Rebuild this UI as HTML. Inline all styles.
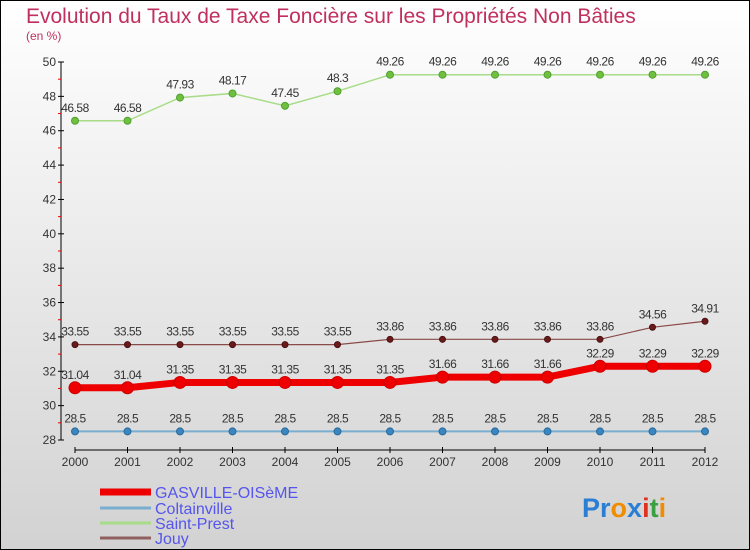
<!DOCTYPE html>
<html><head><meta charset="utf-8"><style>
html,body{margin:0;padding:0}
body{width:750px;height:550px;overflow:hidden;font-family:"Liberation Sans",sans-serif}
</style></head><body>
<svg id="chart" width="750" height="550" xmlns="http://www.w3.org/2000/svg" style="display:block">
<defs><linearGradient id="bg" x1="0" y1="0" x2="0" y2="1"><stop offset="0" stop-color="#ffffff"/><stop offset="1" stop-color="#d2d2d2"/></linearGradient></defs>
<rect x="0.5" y="0.5" width="749" height="549" fill="url(#bg)" stroke="#000" stroke-width="1"/>
<text x="26" y="23" font-size="21" fill="#c0305f">Evolution du Taux de Taxe Foncière sur les Propriétés Non Bâties</text>
<text x="26" y="40" font-size="12" fill="#c0305f">(en %)</text>
<g id="axes"></g>
<g id="series"></g>
<g id="legend"></g>
<g font-size="27" font-weight="bold" font-family="Liberation Sans, sans-serif">
<text x="582" y="517"><tspan fill="#2a7fd4">Pr</tspan><tspan fill="#f08c00">o</tspan><tspan fill="#2a7fd4">x</tspan><tspan fill="#e03020">i</tspan><tspan fill="#3aa040">t</tspan><tspan fill="#f08c00">i</tspan></text>
</g>
</svg>
<script>
const years = [2000,2001,2002,2003,2004,2005,2006,2007,2008,2009,2010,2011,2012];
const gasville = [31.04,31.04,31.35,31.35,31.35,31.35,31.35,31.66,31.66,31.66,32.29,32.29,32.29];
const coltainville = [28.5,28.5,28.5,28.5,28.5,28.5,28.5,28.5,28.5,28.5,28.5,28.5,28.5];
const saintPrest = [46.58,46.58,47.93,48.17,47.45,48.3,49.26,49.26,49.26,49.26,49.26,49.26,49.26];
const jouy = [33.55,33.55,33.55,33.55,33.55,33.55,33.86,33.86,33.86,33.86,33.86,34.56,34.91];
const yTicks = [28,30,32,34,36,38,40,42,44,46,48,50];
const seriesNames = ["GASVILLE-OISèME","Coltainville","Saint-Prest","Jouy"];

const NS="http://www.w3.org/2000/svg";
const yMin=28,yMax=50,yTop=62,yBot=440;
const xFirst=75,xLast=705;
function x(i){return xFirst+(xLast-xFirst)*i/(years.length-1);}
function y(v){return yBot-(v-yMin)*(yBot-yTop)/(yMax-yMin);}
function mk(tag,attrs,parent){const e=document.createElementNS(NS,tag);for(const k in attrs)e.setAttribute(k,attrs[k]);parent.appendChild(e);return e;}
const axes=document.getElementById('axes');
let a=mk('line',{x1:61,y1:yTop,x2:61,y2:yBot,stroke:'#000'},axes);


yTicks.forEach(t=>{
  let l=mk('line',{x1:58,y1:y(t),x2:64,y2:y(t),stroke:'#000'},axes);
  
  
  let tx=mk('text',{x:56,y:y(t)+4,'font-size':12,'text-anchor':'end',fill:'#333'},axes);
  tx.textContent=t;
  
  
  if(t<yMax){
    let m=mk('line',{x1:58,y1:y(t+1),x2:61,y2:y(t+1),stroke:'#e00'},axes);
    
    
  }
});
let xa=mk('line',{x1:xFirst,y1:450,x2:xLast,y2:450,stroke:'#000'},axes);


years.forEach((yr,i)=>{
  let l=mk('line',{x1:x(i),y1:447,x2:x(i),y2:453,stroke:'#000'},axes);
  
  
  let tx=mk('text',{x:x(i),y:466,'font-size':12,'text-anchor':'middle',fill:'#333'},axes);
  tx.textContent=yr;
  
  
});
const sg=document.getElementById('series');
function drawSeries(vals,name,color,width,r,fill,stroke){
  const g=mk('g',{},sg);
  
  
  const ln=mk('polyline',{points:vals.map((v,i)=>x(i)+','+y(v)).join(' '),fill:'none',stroke:color,'stroke-width':width},g);
  
  
  vals.forEach((v,i)=>{
    const c=mk('circle',{cx:x(i),cy:y(v),r:r,fill:fill,stroke:stroke,'stroke-width':1},g);
    
    
    const t=mk('text',{x:x(i),y:y(v)-9,'font-size':12,'text-anchor':'middle',fill:'#333','letter-spacing':'-0.5'},g);
    t.textContent=v;
    
    
  });
}
drawSeries(coltainville,'coltainville','#7aaed0',2,3.5,'#3a86c0','#2a6a9a');
drawSeries(saintPrest,'saint-prest','#a8dc88',1.5,3.5,'#70c040','#50a030');
drawSeries(jouy,'jouy','#8a4a4a',1.2,3,'#6a1a1a','#4a1010');
drawSeries(gasville,'gasville-oiseme','#ee0000',7,6,'#ee0000','#cc0000');
const lg=document.getElementById('legend');
const lcol=['#ee0000','#7aaed0','#a8dc88','#906060'];
const lw=[7,3,3,3];
const ly=[492,508,523,538];
seriesNames.forEach((n,i)=>{
  const g=mk('g',{},lg);
  
  
  mk('line',{x1:100,y1:ly[i],x2:151,y2:ly[i],stroke:lcol[i],'stroke-width':lw[i]},g);
  const t=mk('text',{x:155,y:ly[i]+6,'font-size':16,fill:'#5555ee'},g);
  t.textContent=n;
});
</script>
</body></html>
